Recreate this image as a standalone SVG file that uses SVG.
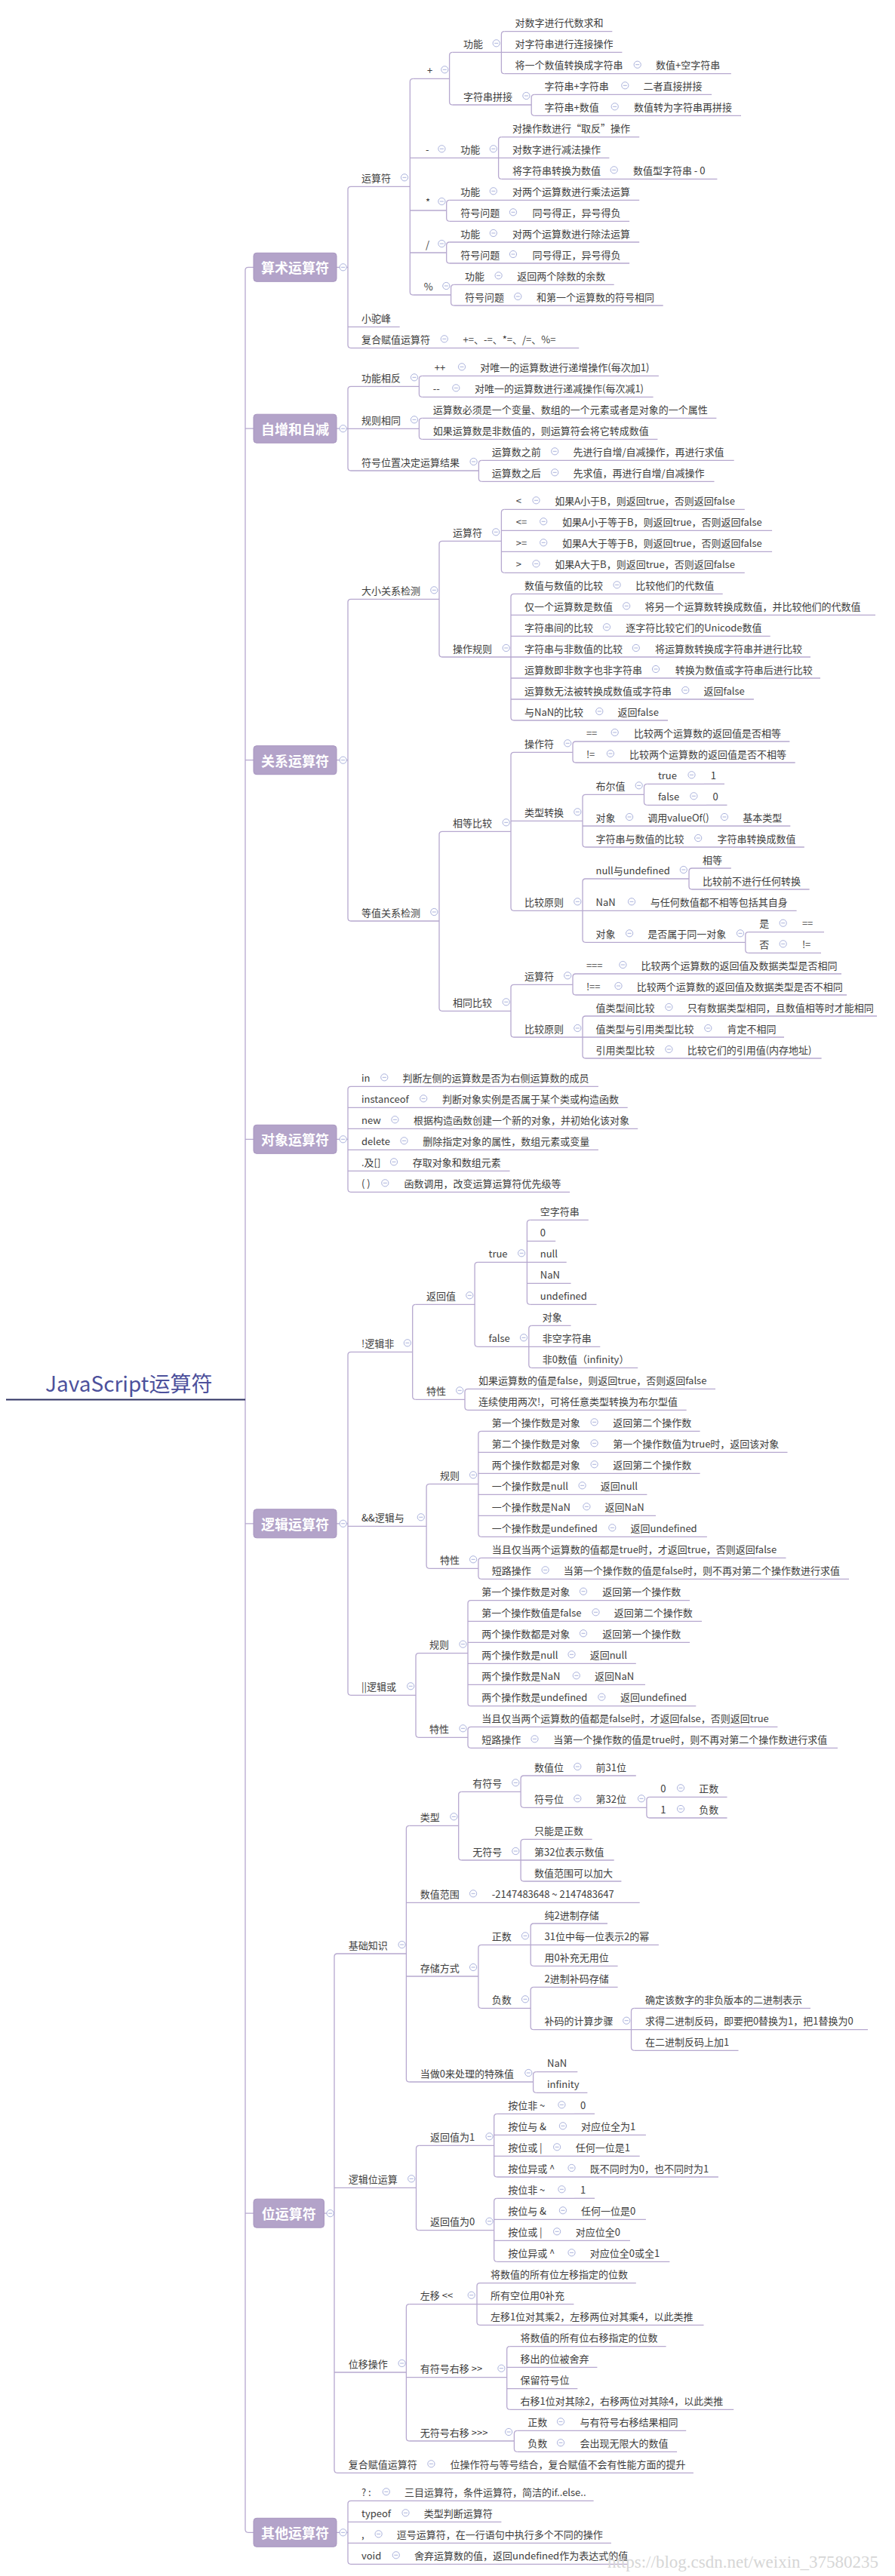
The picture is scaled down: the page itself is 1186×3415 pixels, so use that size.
<svg xmlns="http://www.w3.org/2000/svg" width="1186" height="3415" viewBox="0 0 1186 3415">
<style>
text{font-family:"Noto Sans CJK SC","Microsoft YaHei","Noto Sans",sans-serif;font-size:13px;fill:#3d3d3d;dominant-baseline:central}
.u,.k{stroke:#b6a8cf;stroke-width:1.3;fill:none}
.m{fill:#b3a3c9;stroke:#a896c0;stroke-width:1}
.mt{font-size:18px;font-weight:bold;fill:#fff;text-anchor:middle}
.r{font-size:28px;fill:#4d519c}
.ru{stroke:#2f3262;stroke-width:2;fill:none}
.w{font-family:"Liberation Serif",serif;font-size:23px;fill:#d6d6d6;dominant-baseline:auto}
</style>
<defs>
<g id="ci"><circle r="4.6" fill="#fff" stroke="#aab2dc" stroke-width="1"/><path d="M-2.5 0H2.5" stroke="#aab2dc" stroke-width="1"/></g>
</defs>
<rect width="1186" height="3415" fill="#fff"/>

<g id="connectors">
<path class="k" d="M329 354.3Q325 354.3 325 358.3V3353.3Q325 3357.3 329 3357.3H336M325 568.2H336M325 1007.7H336M325 1510.3H336M325 2019.8H336M325 2934.2H336M329 354.3H336"/>
<path class="k" d="M446 354.3H461M446 568.2H461M446 1007.7H461M446 1510.3H461M446 2019.8H461M429.5 2934.2H443M446 3357.3H461"/>
<path class="k" d="M465 247.3Q461 247.3 461 251.3V457.3Q461 461.3 465 461.3
M547.3 104.3Q543.3 104.3 543.3 108.3V387Q543.3 391 547.3 391
M599.6 69.3Q595.6 69.3 595.6 73.3V135Q595.6 139 599.6 139
M668.4 41.7Q664.4 41.7 664.4 45.7V93.7Q664.4 97.7 668.4 97.7
M708.2 125.3Q704.2 125.3 704.2 129.3V149.3Q704.2 153.3 708.2 153.3
M664.6 181.7Q660.6 181.7 660.6 185.7V233.3Q660.6 237.3 664.6 237.3
M595.7 265.3Q591.7 265.3 591.7 269.3V289.3Q591.7 293.3 595.7 293.3
M595.7 321Q591.7 321 591.7 325V345Q591.7 349 595.7 349
M601.6 377.3Q597.6 377.3 597.6 381.3V401Q597.6 405 601.6 405
M465 512.3Q461 512.3 461 516.3V620Q461 624 465 624
M559.4 498.3Q555.4 498.3 555.4 502.3V522.3Q555.4 526.3 559.4 526.3
M559.4 554.3Q555.4 554.3 555.4 558.3V578.3Q555.4 582.3 559.4 582.3
M638.4 610.3Q634.4 610.3 634.4 614.3V634.3Q634.4 638.3 638.4 638.3
M465 794.3Q461 794.3 461 798.3V1217Q461 1221 465 1221
M586 717.3Q582 717.3 582 721.3V867Q582 871 586 871
M668.4 675.3Q664.4 675.3 664.4 679.3V755.3Q664.4 759.3 668.4 759.3
M681 787.3Q677 787.3 677 791.3V951Q677 955 681 955
M586 1102.3Q582 1102.3 582 1106.3V1336.3Q582 1340.3 586 1340.3
M681 997.3Q677 997.3 677 1001.3V1203.3Q677 1207.3 681 1207.3
M763 983Q759 983 759 987V1007Q759 1011 763 1011
M776 1053.3Q772 1053.3 772 1057.3V1119Q772 1123 776 1123
M857.5 1039.3Q853.5 1039.3 853.5 1043.3V1063.3Q853.5 1067.3 857.5 1067.3
M776 1165Q772 1165 772 1169V1245.3Q772 1249.3 776 1249.3
M917 1151Q913 1151 913 1155V1175Q913 1179 917 1179
M991.8 1235.7Q987.8 1235.7 987.8 1239.7V1259.3Q987.8 1263.3 991.8 1263.3
M681 1305.3Q677 1305.3 677 1309.3V1371Q677 1375 681 1375
M763 1291Q759 1291 759 1295V1315Q759 1319 763 1319
M776 1347Q772 1347 772 1351V1399Q772 1403 776 1403
M465 1440.3Q461 1440.3 461 1444.3V1576.3Q461 1580.3 465 1580.3
M465 1792.3Q461 1792.3 461 1796.3V2243.3Q461 2247.3 465 2247.3
M550.7 1729.3Q546.7 1729.3 546.7 1733.3V1851.3Q546.7 1855.3 550.7 1855.3
M633.1 1673.3Q629.1 1673.3 629.1 1677.3V1781.3Q629.1 1785.3 633.1 1785.3
M702.4 1617.3Q698.4 1617.3 698.4 1621.3V1725.3Q698.4 1729.3 702.4 1729.3
M704.8 1757.3Q700.8 1757.3 700.8 1761.3V1809.3Q700.8 1813.3 704.8 1813.3
M620 1841.3Q616 1841.3 616 1845.3V1865.3Q616 1869.3 620 1869.3
M569.1 1967.3Q565.1 1967.3 565.1 1971.3V2075.3Q565.1 2079.3 569.1 2079.3
M637.9 1897.3Q633.9 1897.3 633.9 1901.3V2033.3Q633.9 2037.3 637.9 2037.3
M637.9 2065.3Q633.9 2065.3 633.9 2069.3V2089.3Q633.9 2093.3 637.9 2093.3
M555 2191.7Q551 2191.7 551 2195.7V2299.3Q551 2303.3 555 2303.3
M624 2121.7Q620 2121.7 620 2125.7V2257.7Q620 2261.7 624 2261.7
M624 2289.3Q620 2289.3 620 2293.3V2313.3Q620 2317.3 624 2317.3
M447 2590Q443 2590 443 2594V3274.3Q443 3278.3 447 3278.3
M542.4 2420.3Q538.4 2420.3 538.4 2424.3V2756Q538.4 2760 542.4 2760
M611.7 2375.3Q607.7 2375.3 607.7 2379.3V2462Q607.7 2466 611.7 2466
M694.1 2354Q690.1 2354 690.1 2358V2392.3Q690.1 2396.3 694.1 2396.3
M860.9 2382.3Q856.9 2382.3 856.9 2386.3V2406Q856.9 2410 860.9 2410
M694.1 2438.3Q690.1 2438.3 690.1 2442.3V2490Q690.1 2494 694.1 2494
M637.9 2578.3Q633.9 2578.3 633.9 2582.3V2658.3Q633.9 2662.3 637.9 2662.3
M707.2 2550Q703.2 2550 703.2 2554V2602.3Q703.2 2606.3 707.2 2606.3
M707.2 2634.3Q703.2 2634.3 703.2 2638.3V2686.7Q703.2 2690.7 707.2 2690.7
M840.5 2662.3Q836.5 2662.3 836.5 2666.3V2714.3Q836.5 2718.3 840.5 2718.3
M710.6 2746.7Q706.6 2746.7 706.6 2750.7V2770.3Q706.6 2774.3 710.6 2774.3
M555.5 2844.3Q551.5 2844.3 551.5 2848.3V2952.7Q551.5 2956.7 555.5 2956.7
M658.7 2802.3Q654.7 2802.3 654.7 2806.3V2882Q654.7 2886 658.7 2886
M658.7 2914.3Q654.7 2914.3 654.7 2918.3V2994.3Q654.7 2998.3 658.7 2998.3
M542.4 3054.7Q538.4 3054.7 538.4 3058.7V3232Q538.4 3236 542.4 3236
M636 3026.7Q632 3026.7 632 3030.7V3078.3Q632 3082.3 636 3082.3
M675.7 3110.7Q671.7 3110.7 671.7 3114.7V3190.3Q671.7 3194.3 675.7 3194.3
M685.4 3222.3Q681.4 3222.3 681.4 3226.3V3246.3Q681.4 3250.3 685.4 3250.3
M465 3315.3Q461 3315.3 461 3319.3V3395.3Q461 3399.3 465 3399.3"/>
</g>

<g id="root"><text class="r" x="60" y="1833">JavaScript运算符</text><path class="ru" d="M8 1855.5H325"/></g>

<g id="m1"><rect class="m" x="336" y="335.3" width="110" height="38" rx="4"/><text class="mt" x="391" y="354.3">算术运算符</text><use href="#ci" x="454.6" y="354.3"/></g>
<g id="m2"><rect class="m" x="336" y="549.2" width="110" height="38" rx="4"/><text class="mt" x="391" y="568.2">自增和自减</text><use href="#ci" x="454.6" y="568.2"/></g>
<g id="m3"><rect class="m" x="336" y="988.7" width="110" height="38" rx="4"/><text class="mt" x="391" y="1007.7">关系运算符</text><use href="#ci" x="454.6" y="1007.7"/></g>
<g id="m4"><rect class="m" x="336" y="1491.3" width="110" height="38" rx="4"/><text class="mt" x="391" y="1510.3">对象运算符</text><use href="#ci" x="454.6" y="1510.3"/></g>
<g id="m5"><rect class="m" x="336" y="2000.8" width="110" height="38" rx="4"/><text class="mt" x="391" y="2019.8">逻辑运算符</text><use href="#ci" x="454.6" y="2019.8"/></g>
<g id="m6"><rect class="m" x="336" y="2915.2" width="93.5" height="38" rx="4"/><text class="mt" x="382.7" y="2934.2">位运算符</text><use href="#ci" x="437.6" y="2934.2"/></g>
<g id="m7"><rect class="m" x="336" y="3338.3" width="110" height="38" rx="4"/><text class="mt" x="391" y="3357.3">其他运算符</text><use href="#ci" x="454.6" y="3357.3"/></g>

<g id="a1"><text x="479" y="235.3">运算符</text><path class="u" d="M465 247.3H543.3"/><use href="#ci" x="536" y="235.3"/></g>
<g id="a2"><text x="566" y="92.3">+</text><path class="u" d="M547.3 104.3H595.6"/><use href="#ci" x="589.3" y="92.3"/></g>
<g id="a3"><text x="614" y="57.3">功能</text><path class="u" d="M599.6 69.3H664.4"/><use href="#ci" x="657.7" y="57.3"/></g>
<g id="a4"><text x="682.4" y="29.7">对数字进行代数求和</text><path class="u" d="M668.4 41.7H811.3"/></g>
<g id="a5"><text x="682.4" y="57.3">对字符串进行连接操作</text><path class="u" d="M664.4 69.3H824.4"/></g>
<g id="a6"><text x="682.4" y="85.7">将一个数值转换成字符串</text><path class="u" d="M668.4 97.7H861"/><use href="#ci" x="844.7" y="85.7"/></g>
<g id="a7"><text x="869" y="85.7">数值+空字符串</text><path class="u" d="M861 97.7H968.8"/></g>
<g id="a8"><text x="614" y="127">字符串拼接</text><path class="u" d="M599.6 139H704.2"/><use href="#ci" x="697.4" y="127"/></g>
<g id="a9"><text x="721.6" y="113.3">字符串+字符串</text><path class="u" d="M708.2 125.3H845"/><use href="#ci" x="828.3" y="113.3"/></g>
<g id="a10"><text x="852.5" y="113.3">二者直接拼接</text><path class="u" d="M845 125.3H943.1"/></g>
<g id="a11"><text x="721.6" y="141.3">字符串+数值</text><path class="u" d="M708.2 153.3H832"/><use href="#ci" x="814.7" y="141.3"/></g>
<g id="a12"><text x="839.9" y="141.3">数值转为字符串再拼接</text><path class="u" d="M832 153.3H982"/></g>
<g id="a13"><text x="564" y="197.3">-</text><path class="u" d="M543.3 209.3H603"/><use href="#ci" x="585.4" y="197.3"/></g>
<g id="a14"><text x="610.2" y="197.3">功能</text><path class="u" d="M603 209.3H660.6"/><use href="#ci" x="653.8" y="197.3"/></g>
<g id="a15"><text x="679" y="169.7">对操作数进行“取反”操作</text><path class="u" d="M664.6 181.7H847.2"/></g>
<g id="a16"><text x="679" y="197.3">对数字进行减法操作</text><path class="u" d="M660.6 209.3H807.4"/></g>
<g id="a17"><text x="679" y="225.3">将字符串转换为数值</text><path class="u" d="M664.6 237.3H831"/><use href="#ci" x="813.7" y="225.3"/></g>
<g id="a18"><text x="838.9" y="225.3">数值型字符串 - 0</text><path class="u" d="M831 237.3H950.4"/></g>
<g id="a19"><text x="564" y="267">*</text><path class="u" d="M543.3 279H591.7"/><use href="#ci" x="585.4" y="267"/></g>
<g id="a20"><text x="610.2" y="253.3">功能</text><path class="u" d="M595.7 265.3H671"/><use href="#ci" x="653.8" y="253.3"/></g>
<g id="a21"><text x="679" y="253.3">对两个运算数进行乘法运算</text><path class="u" d="M671 265.3H847.2"/></g>
<g id="a22"><text x="610.2" y="281.3">符号问题</text><path class="u" d="M595.7 293.3H697"/><use href="#ci" x="680" y="281.3"/></g>
<g id="a23"><text x="705.6" y="281.3">同号得正，异号得负</text><path class="u" d="M697 293.3H834.1"/></g>
<g id="a24"><text x="564" y="323">/</text><path class="u" d="M543.3 335H591.7"/><use href="#ci" x="585.4" y="323"/></g>
<g id="a25"><text x="610.2" y="309">功能</text><path class="u" d="M595.7 321H671"/><use href="#ci" x="653.8" y="309"/></g>
<g id="a26"><text x="679" y="309">对两个运算数进行除法运算</text><path class="u" d="M671 321H847.2"/></g>
<g id="a27"><text x="610.2" y="337">符号问题</text><path class="u" d="M595.7 349H697"/><use href="#ci" x="680" y="337"/></g>
<g id="a28"><text x="705.6" y="337">同号得正，异号得负</text><path class="u" d="M697 349H834.1"/></g>
<g id="a29"><text x="561.7" y="379">%</text><path class="u" d="M547.3 391H597.6"/><use href="#ci" x="591.3" y="379"/></g>
<g id="a30"><text x="616" y="365.3">功能</text><path class="u" d="M601.6 377.3H677"/><use href="#ci" x="660.6" y="365.3"/></g>
<g id="a31"><text x="685.3" y="365.3">返回两个除数的余数</text><path class="u" d="M677 377.3H813.7"/></g>
<g id="a32"><text x="616" y="393">符号问题</text><path class="u" d="M601.6 405H703"/><use href="#ci" x="686.3" y="393"/></g>
<g id="a33"><text x="711" y="393">和第一个运算数的符号相同</text><path class="u" d="M703 405H878.7"/></g>
<g id="a34"><text x="479" y="421.3">小驼峰</text><path class="u" d="M461 433.3H529.7"/></g>
<g id="a35"><text x="479" y="449.3">复合赋值运算符</text><path class="u" d="M465 461.3H605"/><use href="#ci" x="588.8" y="449.3"/></g>
<g id="a36"><text x="613.5" y="449.3">+=、-=、*=、/=、%=</text><path class="u" d="M605 461.3H767.2"/></g>

<g id="b1"><text x="479" y="500.3">功能相反</text><path class="u" d="M465 512.3H555.4"/><use href="#ci" x="549" y="500.3"/></g>
<g id="b2"><text x="575.7" y="486.3">++</text><path class="u" d="M559.4 498.3H628"/><use href="#ci" x="612" y="486.3"/></g>
<g id="b3"><text x="636.3" y="486.3">对唯一的运算数进行递增操作(每次加1)</text><path class="u" d="M628 498.3H872.9"/></g>
<g id="b4"><text x="573.8" y="514.3">--</text><path class="u" d="M559.4 526.3H621"/><use href="#ci" x="604.3" y="514.3"/></g>
<g id="b5"><text x="629" y="514.3">对唯一的运算数进行递减操作(每次减1)</text><path class="u" d="M621 526.3H865.6"/></g>
<g id="b6"><text x="479" y="556.3">规则相同</text><path class="u" d="M461 568.3H555.4"/><use href="#ci" x="549" y="556.3"/></g>
<g id="b7"><text x="573.8" y="542.3">运算数必须是一个变量、数组的一个元素或者是对象的一个属性</text><path class="u" d="M559.4 554.3H949.4"/></g>
<g id="b8"><text x="573.8" y="570.3">如果运算数是非数值的，则运算符会将它转成数值</text><path class="u" d="M559.4 582.3H871.4"/></g>
<g id="b9"><text x="479" y="612">符号位置决定运算结果</text><path class="u" d="M465 624H634.4"/><use href="#ci" x="627.6" y="612"/></g>
<g id="b10"><text x="651.8" y="598.3">运算数之前</text><path class="u" d="M638.4 610.3H751"/><use href="#ci" x="735.2" y="598.3"/></g>
<g id="b11"><text x="759.4" y="598.3">先进行自增/自减操作，再进行求值</text><path class="u" d="M751 610.3H972.7"/></g>
<g id="b12"><text x="651.8" y="626.3">运算数之后</text><path class="u" d="M638.4 638.3H751"/><use href="#ci" x="735.2" y="626.3"/></g>
<g id="b13"><text x="759.4" y="626.3">先求值，再进行自增/自减操作</text><path class="u" d="M751 638.3H946.5"/></g>

<g id="c1"><text x="479" y="782.3">大小关系检测</text><path class="u" d="M465 794.3H582"/><use href="#ci" x="575.3" y="782.3"/></g>
<g id="c2"><text x="600" y="705.3">运算符</text><path class="u" d="M586 717.3H664.4"/><use href="#ci" x="657.2" y="705.3"/></g>
<g id="c3"><text x="683.8" y="663.3">&lt;</text><path class="u" d="M668.4 675.3H727"/><use href="#ci" x="710.5" y="663.3"/></g>
<g id="c4"><text x="735.2" y="663.3">如果A小于B，则返回true，否则返回false</text><path class="u" d="M727 675.3H986.8"/></g>
<g id="c5"><text x="683.8" y="691.3">&lt;=</text><path class="u" d="M664.4 703.3H737"/><use href="#ci" x="720.2" y="691.3"/></g>
<g id="c6"><text x="745" y="691.3">如果A小于等于B，则返回true，否则返回false</text><path class="u" d="M737 703.3H1023.1"/></g>
<g id="c7"><text x="683.8" y="719.3">&gt;=</text><path class="u" d="M664.4 731.3H737"/><use href="#ci" x="720.2" y="719.3"/></g>
<g id="c8"><text x="745" y="719.3">如果A大于等于B，则返回true，否则返回false</text><path class="u" d="M737 731.3H1023.1"/></g>
<g id="c9"><text x="683.8" y="747.3">&gt;</text><path class="u" d="M668.4 759.3H727"/><use href="#ci" x="710.5" y="747.3"/></g>
<g id="c10"><text x="735.2" y="747.3">如果A大于B，则返回true，否则返回false</text><path class="u" d="M727 759.3H986.8"/></g>
<g id="c11"><text x="600" y="859">操作规则</text><path class="u" d="M586 871H677"/><use href="#ci" x="670.7" y="859"/></g>
<g id="c12"><text x="695" y="775.3">数值与数值的比较</text><path class="u" d="M681 787.3H834"/><use href="#ci" x="817.6" y="775.3"/></g>
<g id="c13"><text x="842.3" y="775.3">比较他们的代数值</text><path class="u" d="M834 787.3H957.7"/></g>
<g id="c14"><text x="695" y="803.3">仅一个运算数是数值</text><path class="u" d="M677 815.3H846"/><use href="#ci" x="830.2" y="803.3"/></g>
<g id="c15"><text x="854.4" y="803.3">将另一个运算数转换成数值，并比较他们的代数值</text><path class="u" d="M846 815.3H1160"/></g>
<g id="c16"><text x="695" y="831.3">字符串间的比较</text><path class="u" d="M677 843.3H821"/><use href="#ci" x="804" y="831.3"/></g>
<g id="c17"><text x="829.2" y="831.3">逐字符比较它们的Unicode数值</text><path class="u" d="M821 843.3H1020.7"/></g>
<g id="c18"><text x="695" y="859">字符串与非数值的比较</text><path class="u" d="M677 871H860"/><use href="#ci" x="842.8" y="859"/></g>
<g id="c19"><text x="868" y="859">将运算数转换成字符串并进行比较</text><path class="u" d="M860 871H1074"/></g>
<g id="c20"><text x="695" y="887">运算数即非数字也非字符串</text><path class="u" d="M677 899H886"/><use href="#ci" x="869" y="887"/></g>
<g id="c21"><text x="894.7" y="887">转换为数值或字符串后进行比较</text><path class="u" d="M886 899H1087"/></g>
<g id="c22"><text x="695" y="915">运算数无法被转换成数值或字符串</text><path class="u" d="M677 927H924"/><use href="#ci" x="908.3" y="915"/></g>
<g id="c23"><text x="932.5" y="915">返回false</text><path class="u" d="M924 927H998.9"/></g>
<g id="c24"><text x="695" y="943">与NaN的比较</text><path class="u" d="M681 955H810"/><use href="#ci" x="794.3" y="943"/></g>
<g id="c25"><text x="818.6" y="943">返回false</text><path class="u" d="M810 955H885"/></g>
<g id="c26"><text x="479" y="1209">等值关系检测</text><path class="u" d="M465 1221H582"/><use href="#ci" x="575.3" y="1209"/></g>
<g id="c27"><text x="600" y="1090.3">相等比较</text><path class="u" d="M586 1102.3H677"/><use href="#ci" x="670.7" y="1090.3"/></g>
<g id="c28"><text x="695" y="985.3">操作符</text><path class="u" d="M681 997.3H759"/><use href="#ci" x="752.2" y="985.3"/></g>
<g id="c29"><text x="776.9" y="971">==</text><path class="u" d="M763 983H831"/><use href="#ci" x="814.7" y="971"/></g>
<g id="c30"><text x="839.9" y="971">比较两个运算数的返回值是否相等</text><path class="u" d="M831 983H1046.4"/></g>
<g id="c31"><text x="776.9" y="999">!=</text><path class="u" d="M763 1011H826"/><use href="#ci" x="808.9" y="999"/></g>
<g id="c32"><text x="834.1" y="999">比较两个运算数的返回值是否不相等</text><path class="u" d="M826 1011H1053.7"/></g>
<g id="c33"><text x="695" y="1076.3">类型转换</text><path class="u" d="M677 1088.3H772"/><use href="#ci" x="765.3" y="1076.3"/></g>
<g id="c34"><text x="789.5" y="1041.3">布尔值</text><path class="u" d="M776 1053.3H853.5"/><use href="#ci" x="846.7" y="1041.3"/></g>
<g id="c35"><text x="871.9" y="1027.3">true</text><path class="u" d="M857.5 1039.3H933"/><use href="#ci" x="916.5" y="1027.3"/></g>
<g id="c36"><text x="941.7" y="1027.3">1</text><path class="u" d="M933 1039.3H960"/></g>
<g id="c37"><text x="871.9" y="1055.3">false</text><path class="u" d="M857.5 1067.3H936"/><use href="#ci" x="919.4" y="1055.3"/></g>
<g id="c38"><text x="944.6" y="1055.3">0</text><path class="u" d="M936 1067.3H963.5"/></g>
<g id="c39"><text x="789.5" y="1083">对象</text><path class="u" d="M772 1095H850"/><use href="#ci" x="834.1" y="1083"/></g>
<g id="c40"><text x="858.3" y="1083">调用valueOf()</text><path class="u" d="M850 1095H976"/><use href="#ci" x="960" y="1083"/></g>
<g id="c41"><text x="984.3" y="1083">基本类型</text><path class="u" d="M976 1095H1047.3"/></g>
<g id="c42"><text x="789.5" y="1111">字符串与数值的比较</text><path class="u" d="M776 1123H942"/><use href="#ci" x="925.2" y="1111"/></g>
<g id="c43"><text x="950.4" y="1111">字符串转换成数值</text><path class="u" d="M942 1123H1065.8"/></g>
<g id="c44"><text x="695" y="1195.3">比较原则</text><path class="u" d="M681 1207.3H772"/><use href="#ci" x="765.3" y="1195.3"/></g>
<g id="c45"><text x="789.5" y="1153">null与undefined</text><path class="u" d="M776 1165H913"/><use href="#ci" x="905.8" y="1153"/></g>
<g id="c46"><text x="931" y="1139">相等</text><path class="u" d="M917 1151H968.8"/></g>
<g id="c47"><text x="931" y="1167">比较前不进行任何转换</text><path class="u" d="M917 1179H1072.6"/></g>
<g id="c48"><text x="789.5" y="1195.3">NaN</text><path class="u" d="M772 1207.3H853"/><use href="#ci" x="837" y="1195.3"/></g>
<g id="c49"><text x="861.7" y="1195.3">与任何数值都不相等包括其自身</text><path class="u" d="M853 1207.3H1055.6"/></g>
<g id="c50"><text x="789.5" y="1237.3">对象</text><path class="u" d="M776 1249.3H850"/><use href="#ci" x="834.1" y="1237.3"/></g>
<g id="c51"><text x="858.3" y="1237.3">是否属于同一对象</text><path class="u" d="M850 1249.3H987.8"/><use href="#ci" x="981" y="1237.3"/></g>
<g id="c52"><text x="1006.2" y="1223.7">是</text><path class="u" d="M991.8 1235.7H1054"/><use href="#ci" x="1037.7" y="1223.7"/></g>
<g id="c53"><text x="1062.9" y="1223.7">==</text><path class="u" d="M1054 1235.7H1092"/></g>
<g id="c54"><text x="1006.2" y="1251.3">否</text><path class="u" d="M991.8 1263.3H1054"/><use href="#ci" x="1037.7" y="1251.3"/></g>
<g id="c55"><text x="1062.9" y="1251.3">!=</text><path class="u" d="M1054 1263.3H1088"/></g>
<g id="c56"><text x="600" y="1328.3">相同比较</text><path class="u" d="M586 1340.3H677"/><use href="#ci" x="670.7" y="1328.3"/></g>
<g id="c57"><text x="695" y="1293.3">运算符</text><path class="u" d="M681 1305.3H759"/><use href="#ci" x="752.2" y="1293.3"/></g>
<g id="c58"><text x="776.9" y="1279">===</text><path class="u" d="M763 1291H841"/><use href="#ci" x="825.4" y="1279"/></g>
<g id="c59"><text x="849.6" y="1279">比较两个运算数的返回值及数据类型是否相同</text><path class="u" d="M841 1291H1115"/></g>
<g id="c60"><text x="776.9" y="1307">!==</text><path class="u" d="M763 1319H835"/><use href="#ci" x="819.5" y="1307"/></g>
<g id="c61"><text x="843.8" y="1307">比较两个运算数的返回值及数据类型是否不相同</text><path class="u" d="M835 1319H1122"/></g>
<g id="c62"><text x="695" y="1363">比较原则</text><path class="u" d="M681 1375H772"/><use href="#ci" x="765.3" y="1363"/></g>
<g id="c63"><text x="789.5" y="1335">值类型间比较</text><path class="u" d="M776 1347H902"/><use href="#ci" x="886.4" y="1335"/></g>
<g id="c64"><text x="910.7" y="1335">只有数据类型相同，且数值相等时才能相同</text><path class="u" d="M902 1347H1162"/></g>
<g id="c65"><text x="789.5" y="1363">值类型与引用类型比较</text><path class="u" d="M772 1375H955"/><use href="#ci" x="938.3" y="1363"/></g>
<g id="c66"><text x="963.5" y="1363">肯定不相同</text><path class="u" d="M955 1375H1039"/></g>
<g id="c67"><text x="789.5" y="1391">引用类型比较</text><path class="u" d="M776 1403H902"/><use href="#ci" x="886.4" y="1391"/></g>
<g id="c68"><text x="910.7" y="1391">比较它们的引用值(内存地址)</text><path class="u" d="M902 1403H1088.6"/></g>

<g id="d1"><text x="479" y="1428.3">in</text><path class="u" d="M465 1440.3H525"/><use href="#ci" x="509.3" y="1428.3"/></g>
<g id="d2"><text x="533.6" y="1428.3">判断左侧的运算数是否为右侧运算数的成员</text><path class="u" d="M525 1440.3H792.9"/></g>
<g id="d3"><text x="479" y="1456.3">instanceof</text><path class="u" d="M461 1468.3H577"/><use href="#ci" x="561.2" y="1456.3"/></g>
<g id="d4"><text x="585.9" y="1456.3">判断对象实例是否属于某个类或构造函数</text><path class="u" d="M577 1468.3H831.7"/></g>
<g id="d5"><text x="479" y="1484.3">new</text><path class="u" d="M461 1496.3H540"/><use href="#ci" x="523.4" y="1484.3"/></g>
<g id="d6"><text x="548.1" y="1484.3">根据构造函数创建一个新的对象，并初始化该对象</text><path class="u" d="M540 1496.3H845.2"/></g>
<g id="d7"><text x="479" y="1512.3">delete</text><path class="u" d="M461 1524.3H552"/><use href="#ci" x="535.5" y="1512.3"/></g>
<g id="d8"><text x="560.2" y="1512.3">删除指定对象的属性，数组元素或变量</text><path class="u" d="M552 1524.3H792.9"/></g>
<g id="d9"><text x="479" y="1540.3">.及[]</text><path class="u" d="M461 1552.3H538"/><use href="#ci" x="522" y="1540.3"/></g>
<g id="d10"><text x="546.7" y="1540.3">存取对象和数组元素</text><path class="u" d="M538 1552.3H675.6"/></g>
<g id="d11"><text x="479" y="1568.3">( )</text><path class="u" d="M465 1580.3H527"/><use href="#ci" x="510.3" y="1568.3"/></g>
<g id="d12"><text x="535.5" y="1568.3">函数调用，改变运算运算符优先级等</text><path class="u" d="M527 1580.3H755.1"/></g>

<g id="e1"><text x="479" y="1780.3">!逻辑非</text><path class="u" d="M465 1792.3H546.7"/><use href="#ci" x="539.9" y="1780.3"/></g>
<g id="e2"><text x="565.1" y="1717.3">返回值</text><path class="u" d="M550.7 1729.3H629.1"/><use href="#ci" x="622.3" y="1717.3"/></g>
<g id="e3"><text x="647.5" y="1661.3">true</text><path class="u" d="M633.1 1673.3H698.4"/><use href="#ci" x="691.1" y="1661.3"/></g>
<g id="e4"><text x="715.8" y="1605.3">空字符串</text><path class="u" d="M702.4 1617.3H779.8"/></g>
<g id="e5"><text x="715.8" y="1633.3">0</text><path class="u" d="M698.4 1645.3H736.2"/></g>
<g id="e6"><text x="715.8" y="1661.3">null</text><path class="u" d="M698.4 1673.3H750.7"/></g>
<g id="e7"><text x="715.8" y="1689.3">NaN</text><path class="u" d="M698.4 1701.3H756.5"/></g>
<g id="e8"><text x="715.8" y="1717.3">undefined</text><path class="u" d="M702.4 1729.3H790.5"/></g>
<g id="e9"><text x="647.5" y="1773.3">false</text><path class="u" d="M633.1 1785.3H700.8"/><use href="#ci" x="694" y="1773.3"/></g>
<g id="e10"><text x="718.7" y="1745.3">对象</text><path class="u" d="M704.8 1757.3H756.5"/></g>
<g id="e11"><text x="718.7" y="1773.3">非空字符串</text><path class="u" d="M700.8 1785.3H795.3"/></g>
<g id="e12"><text x="718.7" y="1801.3">非0数值（infinity）</text><path class="u" d="M704.8 1813.3H845.2"/></g>
<g id="e13"><text x="565.1" y="1843.3">特性</text><path class="u" d="M550.7 1855.3H616"/><use href="#ci" x="609.2" y="1843.3"/></g>
<g id="e14"><text x="633.9" y="1829.3">如果运算数的值是false，则返回true，否则返回false</text><path class="u" d="M620 1841.3H948"/></g>
<g id="e15"><text x="633.9" y="1857.3">连续使用两次!，可将任意类型转换为布尔型值</text><path class="u" d="M620 1869.3H909.7"/></g>
<g id="e16"><text x="479" y="2011.3">&amp;&amp;逻辑与</text><path class="u" d="M461 2023.3H565.1"/><use href="#ci" x="557.8" y="2011.3"/></g>
<g id="e17"><text x="583" y="1955.3">规则</text><path class="u" d="M569.1 1967.3H633.9"/><use href="#ci" x="627.1" y="1955.3"/></g>
<g id="e18"><text x="651.8" y="1885.3">第一个操作数是对象</text><path class="u" d="M637.9 1897.3H804"/><use href="#ci" x="787.6" y="1885.3"/></g>
<g id="e19"><text x="812.3" y="1885.3">返回第二个操作数</text><path class="u" d="M804 1897.3H927.6"/></g>
<g id="e20"><text x="651.8" y="1913.3">第二个操作数是对象</text><path class="u" d="M633.9 1925.3H804"/><use href="#ci" x="787.6" y="1913.3"/></g>
<g id="e21"><text x="812.3" y="1913.3">第一个操作数值为true时，返回该对象</text><path class="u" d="M804 1925.3H1043.5"/></g>
<g id="e22"><text x="651.8" y="1941.3">两个操作数都是对象</text><path class="u" d="M633.9 1953.3H804"/><use href="#ci" x="787.6" y="1941.3"/></g>
<g id="e23"><text x="812.3" y="1941.3">返回第二个操作数</text><path class="u" d="M804 1953.3H927.6"/></g>
<g id="e24"><text x="651.8" y="1969.3">一个操作数是null</text><path class="u" d="M633.9 1981.3H788"/><use href="#ci" x="771.6" y="1969.3"/></g>
<g id="e25"><text x="795.8" y="1969.3">返回null</text><path class="u" d="M788 1981.3H857.4"/></g>
<g id="e26"><text x="651.8" y="1997.3">一个操作数是NaN</text><path class="u" d="M633.9 2009.3H794"/><use href="#ci" x="777.4" y="1997.3"/></g>
<g id="e27"><text x="801.6" y="1997.3">返回NaN</text><path class="u" d="M794 2009.3H869"/></g>
<g id="e28"><text x="651.8" y="2025.3">一个操作数是undefined</text><path class="u" d="M637.9 2037.3H828"/><use href="#ci" x="811.3" y="2025.3"/></g>
<g id="e29"><text x="835.6" y="2025.3">返回undefined</text><path class="u" d="M828 2037.3H936.9"/></g>
<g id="e30"><text x="583" y="2067.3">特性</text><path class="u" d="M569.1 2079.3H633.9"/><use href="#ci" x="627.1" y="2067.3"/></g>
<g id="e31"><text x="651.8" y="2053.3">当且仅当两个运算数的值都是true时，才返回true，否则返回false</text><path class="u" d="M637.9 2065.3H1041.5"/></g>
<g id="e32"><text x="651.8" y="2081.3">短路操作</text><path class="u" d="M637.9 2093.3H739"/><use href="#ci" x="722.6" y="2081.3"/></g>
<g id="e33"><text x="746.8" y="2081.3">当第一个操作数的值是false时，则不再对第二个操作数进行求值</text><path class="u" d="M739 2093.3H1125"/></g>
<g id="e34"><text x="479" y="2235.3">||逻辑或</text><path class="u" d="M465 2247.3H551"/><use href="#ci" x="544.2" y="2235.3"/></g>
<g id="e35"><text x="569" y="2179.7">规则</text><path class="u" d="M555 2191.7H620"/><use href="#ci" x="613.5" y="2179.7"/></g>
<g id="e36"><text x="638.3" y="2109.7">第一个操作数是对象</text><path class="u" d="M624 2121.7H790"/><use href="#ci" x="773" y="2109.7"/></g>
<g id="e37"><text x="798.2" y="2109.7">返回第一个操作数</text><path class="u" d="M790 2121.7H914"/></g>
<g id="e38"><text x="638.3" y="2137.3">第一个操作数值是false</text><path class="u" d="M620 2149.3H806"/><use href="#ci" x="789.5" y="2137.3"/></g>
<g id="e39"><text x="813.7" y="2137.3">返回第二个操作数</text><path class="u" d="M806 2149.3H930"/></g>
<g id="e40"><text x="638.3" y="2165.3">两个操作数都是对象</text><path class="u" d="M620 2177.3H790"/><use href="#ci" x="773" y="2165.3"/></g>
<g id="e41"><text x="798.2" y="2165.3">返回第一个操作数</text><path class="u" d="M790 2177.3H914"/></g>
<g id="e42"><text x="638.3" y="2193.3">两个操作数是null</text><path class="u" d="M620 2205.3H774"/><use href="#ci" x="757.5" y="2193.3"/></g>
<g id="e43"><text x="781.7" y="2193.3">返回null</text><path class="u" d="M774 2205.3H842.8"/></g>
<g id="e44"><text x="638.3" y="2221.3">两个操作数是NaN</text><path class="u" d="M620 2233.3H780"/><use href="#ci" x="763.8" y="2221.3"/></g>
<g id="e45"><text x="788" y="2221.3">返回NaN</text><path class="u" d="M780 2233.3H855"/></g>
<g id="e46"><text x="638.3" y="2249.7">两个操作数是undefined</text><path class="u" d="M624 2261.7H814"/><use href="#ci" x="797.3" y="2249.7"/></g>
<g id="e47"><text x="822" y="2249.7">返回undefined</text><path class="u" d="M814 2261.7H922.3"/></g>
<g id="e48"><text x="569" y="2291.3">特性</text><path class="u" d="M555 2303.3H620"/><use href="#ci" x="613.5" y="2291.3"/></g>
<g id="e49"><text x="638.3" y="2277.3">当且仅当两个运算数的值都是false时，才返回false，否则返回true</text><path class="u" d="M624 2289.3H1030.4"/></g>
<g id="e50"><text x="638.3" y="2305.3">短路操作</text><path class="u" d="M624 2317.3H725"/><use href="#ci" x="708.5" y="2305.3"/></g>
<g id="e51"><text x="733.3" y="2305.3">当第一个操作数的值是true时，则不再对第二个操作数进行求值</text><path class="u" d="M725 2317.3H1110"/></g>

<g id="f1"><text x="461.8" y="2578">基础知识</text><path class="u" d="M447 2590H538.4"/><use href="#ci" x="532.6" y="2578"/></g>
<g id="f2"><text x="556.8" y="2408.3">类型</text><path class="u" d="M542.4 2420.3H607.7"/><use href="#ci" x="601.4" y="2408.3"/></g>
<g id="f3"><text x="626.2" y="2363.3">有符号</text><path class="u" d="M611.7 2375.3H690.1"/><use href="#ci" x="683.3" y="2363.3"/></g>
<g id="f4"><text x="708" y="2342">数值位</text><path class="u" d="M694.1 2354H781"/><use href="#ci" x="765.3" y="2342"/></g>
<g id="f5"><text x="789.5" y="2342">前31位</text><path class="u" d="M781 2354H842.8"/></g>
<g id="f6"><text x="708" y="2384.3">符号位</text><path class="u" d="M694.1 2396.3H781"/><use href="#ci" x="765.3" y="2384.3"/></g>
<g id="f7"><text x="789.5" y="2384.3">第32位</text><path class="u" d="M781 2396.3H856.9"/><use href="#ci" x="850" y="2384.3"/></g>
<g id="f8"><text x="875.3" y="2370.3">0</text><path class="u" d="M860.9 2382.3H918"/><use href="#ci" x="902" y="2370.3"/></g>
<g id="f9"><text x="926.2" y="2370.3">正数</text><path class="u" d="M918 2382.3H963.5"/></g>
<g id="f10"><text x="875.3" y="2398">1</text><path class="u" d="M860.9 2410H918"/><use href="#ci" x="902" y="2398"/></g>
<g id="f11"><text x="926.2" y="2398">负数</text><path class="u" d="M918 2410H963.5"/></g>
<g id="f12"><text x="626.2" y="2454">无符号</text><path class="u" d="M611.7 2466H690.1"/><use href="#ci" x="683.3" y="2454"/></g>
<g id="f13"><text x="708" y="2426.3">只能是正数</text><path class="u" d="M694.1 2438.3H784.6"/></g>
<g id="f14"><text x="708" y="2454">第32位表示数值</text><path class="u" d="M690.1 2466H813.7"/></g>
<g id="f15"><text x="708" y="2482">数值范围可以加大</text><path class="u" d="M694.1 2494H823.4"/></g>
<g id="f16"><text x="556.8" y="2510.3">数值范围</text><path class="u" d="M538.4 2522.3H644"/><use href="#ci" x="627.1" y="2510.3"/></g>
<g id="f17"><text x="651.8" y="2510.3">-2147483648 ~ 2147483647</text><path class="u" d="M644 2522.3H847.7"/></g>
<g id="f18"><text x="556.8" y="2608">存储方式</text><path class="u" d="M538.4 2620H633.9"/><use href="#ci" x="627.1" y="2608"/></g>
<g id="f19"><text x="651.8" y="2566.3">正数</text><path class="u" d="M637.9 2578.3H703.2"/><use href="#ci" x="696" y="2566.3"/></g>
<g id="f20"><text x="721.6" y="2538">纯2进制存储</text><path class="u" d="M707.2 2550H805"/></g>
<g id="f21"><text x="721.6" y="2566.3">31位中每一位表示2的幂</text><path class="u" d="M703.2 2578.3H872.9"/></g>
<g id="f22"><text x="721.6" y="2594.3">用0补充无用位</text><path class="u" d="M707.2 2606.3H818.6"/></g>
<g id="f23"><text x="651.8" y="2650.3">负数</text><path class="u" d="M637.9 2662.3H703.2"/><use href="#ci" x="696" y="2650.3"/></g>
<g id="f24"><text x="721.6" y="2622.3">2进制补码存储</text><path class="u" d="M707.2 2634.3H818.6"/></g>
<g id="f25"><text x="721.6" y="2678.7">补码的计算步骤</text><path class="u" d="M707.2 2690.7H836.5"/><use href="#ci" x="830.2" y="2678.7"/></g>
<g id="f26"><text x="854.9" y="2650.3">确定该数字的非负版本的二进制表示</text><path class="u" d="M840.5 2662.3H1074"/></g>
<g id="f27"><text x="854.9" y="2678.7">求得二进制反码，即要把0替换为1，把1替换为0</text><path class="u" d="M836.5 2690.7H1150"/></g>
<g id="f28"><text x="854.9" y="2706.3">在二进制反码上加1</text><path class="u" d="M840.5 2718.3H978.5"/></g>
<g id="f29"><text x="556.8" y="2748">当做0来处理的特殊值</text><path class="u" d="M542.4 2760H706.6"/><use href="#ci" x="700.3" y="2748"/></g>
<g id="f30"><text x="725" y="2734.7">NaN</text><path class="u" d="M710.6 2746.7H765.3"/></g>
<g id="f31"><text x="725" y="2762.3">infinity</text><path class="u" d="M710.6 2774.3H778.4"/></g>
<g id="f32"><text x="461.8" y="2888.3">逻辑位运算</text><path class="u" d="M443 2900.3H551.5"/><use href="#ci" x="545.2" y="2888.3"/></g>
<g id="f33"><text x="569.9" y="2832.3">返回值为1</text><path class="u" d="M555.5 2844.3H654.7"/><use href="#ci" x="648.5" y="2832.3"/></g>
<g id="f34"><text x="673.2" y="2790.3">按位非 ~</text><path class="u" d="M658.7 2802.3H761"/><use href="#ci" x="744.4" y="2790.3"/></g>
<g id="f35"><text x="769.1" y="2790.3">0</text><path class="u" d="M761 2802.3H788"/></g>
<g id="f36"><text x="673.2" y="2818.3">按位与 &amp;</text><path class="u" d="M654.7 2830.3H762"/><use href="#ci" x="745.9" y="2818.3"/></g>
<g id="f37"><text x="770.1" y="2818.3">对应位全为1</text><path class="u" d="M762 2830.3H855.9"/></g>
<g id="f38"><text x="673.2" y="2846.3">按位或 |</text><path class="u" d="M654.7 2858.3H755"/><use href="#ci" x="738.1" y="2846.3"/></g>
<g id="f39"><text x="762.8" y="2846.3">任何一位是1</text><path class="u" d="M755 2858.3H847.7"/></g>
<g id="f40"><text x="673.2" y="2874">按位异或 ^</text><path class="u" d="M658.7 2886H774"/><use href="#ci" x="757.5" y="2874"/></g>
<g id="f41"><text x="781.7" y="2874">既不同时为0，也不同时为1</text><path class="u" d="M774 2886H951.9"/></g>
<g id="f42"><text x="569.9" y="2944.7">返回值为0</text><path class="u" d="M555.5 2956.7H654.7"/><use href="#ci" x="648.5" y="2944.7"/></g>
<g id="f43"><text x="673.2" y="2902.3">按位非 ~</text><path class="u" d="M658.7 2914.3H761"/><use href="#ci" x="744.4" y="2902.3"/></g>
<g id="f44"><text x="769.1" y="2902.3">1</text><path class="u" d="M761 2914.3H788"/></g>
<g id="f45"><text x="673.2" y="2930.3">按位与 &amp;</text><path class="u" d="M654.7 2942.3H762"/><use href="#ci" x="745.9" y="2930.3"/></g>
<g id="f46"><text x="770.1" y="2930.3">任何一位是0</text><path class="u" d="M762 2942.3H855.9"/></g>
<g id="f47"><text x="673.2" y="2958.3">按位或 |</text><path class="u" d="M654.7 2970.3H755"/><use href="#ci" x="738.1" y="2958.3"/></g>
<g id="f48"><text x="762.8" y="2958.3">对应位全0</text><path class="u" d="M755 2970.3H835"/></g>
<g id="f49"><text x="673.2" y="2986.3">按位异或 ^</text><path class="u" d="M658.7 2998.3H774"/><use href="#ci" x="757.5" y="2986.3"/></g>
<g id="f50"><text x="781.7" y="2986.3">对应位全0或全1</text><path class="u" d="M774 2998.3H887.4"/></g>
<g id="f51"><text x="461.8" y="3133">位移操作</text><path class="u" d="M443 3145H538.4"/><use href="#ci" x="532.6" y="3133"/></g>
<g id="f52"><text x="556.8" y="3042.7">左移 &lt;&lt;</text><path class="u" d="M542.4 3054.7H632"/><use href="#ci" x="624.7" y="3042.7"/></g>
<g id="f53"><text x="649.9" y="3014.7">将数值的所有位左移指定的位数</text><path class="u" d="M636 3026.7H842.8"/></g>
<g id="f54"><text x="649.9" y="3042.7">所有空位用0补充</text><path class="u" d="M632 3054.7H760.4"/></g>
<g id="f55"><text x="649.9" y="3070.3">左移1位对其乘2，左移两位对其乘4，以此类推</text><path class="u" d="M636 3082.3H932.5"/></g>
<g id="f56"><text x="556.8" y="3139.7">有符号右移 &gt;&gt;</text><path class="u" d="M538.4 3151.7H671.7"/><use href="#ci" x="664.4" y="3139.7"/></g>
<g id="f57"><text x="689.6" y="3098.7">将数值的所有位右移指定的位数</text><path class="u" d="M675.7 3110.7H882.6"/></g>
<g id="f58"><text x="689.6" y="3126.3">移出的位被舍弃</text><path class="u" d="M671.7 3138.3H791.4"/></g>
<g id="f59"><text x="689.6" y="3154.7">保留符号位</text><path class="u" d="M671.7 3166.7H765.3"/></g>
<g id="f60"><text x="689.6" y="3182.3">右移1位对其除2，右移两位对其除4，以此类推</text><path class="u" d="M675.7 3194.3H972.2"/></g>
<g id="f61"><text x="556.8" y="3224">无符号右移 &gt;&gt;&gt;</text><path class="u" d="M542.4 3236H681.4"/><use href="#ci" x="674.1" y="3224"/></g>
<g id="f62"><text x="699.3" y="3210.3">正数</text><path class="u" d="M685.4 3222.3H760"/><use href="#ci" x="743" y="3210.3"/></g>
<g id="f63"><text x="768.6" y="3210.3">与有符号右移结果相同</text><path class="u" d="M760 3222.3H909.2"/></g>
<g id="f64"><text x="699.3" y="3238.3">负数</text><path class="u" d="M685.4 3250.3H760"/><use href="#ci" x="743" y="3238.3"/></g>
<g id="f65"><text x="768.6" y="3238.3">会出现无限大的数值</text><path class="u" d="M760 3250.3H897.1"/></g>
<g id="f66"><text x="461.8" y="3266.3">复合赋值运算符</text><path class="u" d="M447 3278.3H588"/><use href="#ci" x="571.4" y="3266.3"/></g>
<g id="f67"><text x="596.6" y="3266.3">位操作符与等号结合，复合赋值不会有性能方面的提升</text><path class="u" d="M588 3278.3H918.9"/></g>

<g id="g1"><text x="479" y="3303.3">? :</text><path class="u" d="M465 3315.3H528"/><use href="#ci" x="511.8" y="3303.3"/></g>
<g id="g2"><text x="536" y="3303.3">三目运算符，条件运算符，简洁的if..else..</text><path class="u" d="M528 3315.3H786.6"/></g>
<g id="g3"><text x="479" y="3331.3">typeof</text><path class="u" d="M461 3343.3H553"/><use href="#ci" x="537.5" y="3331.3"/></g>
<g id="g4"><text x="561.7" y="3331.3">类型判断运算符</text><path class="u" d="M553 3343.3H664.4"/></g>
<g id="g5"><text x="479" y="3359.3">,</text><path class="u" d="M461 3371.3H517"/><use href="#ci" x="501.6" y="3359.3"/></g>
<g id="g6"><text x="525.8" y="3359.3">逗号运算符，在一行语句中执行多个不同的操作</text><path class="u" d="M517 3371.3H809.9"/></g>
<g id="g7"><text x="479" y="3387.3">void</text><path class="u" d="M465 3399.3H540"/><use href="#ci" x="524.8" y="3387.3"/></g>
<g id="g8"><text x="549.1" y="3387.3">舍弃运算数的值，返回undefined作为表达式的值</text><path class="u" d="M540 3399.3H831.7"/></g>

<text class="w" x="805" y="3404">https://blog.csdn.net/weixin_37580235</text>
</svg>
